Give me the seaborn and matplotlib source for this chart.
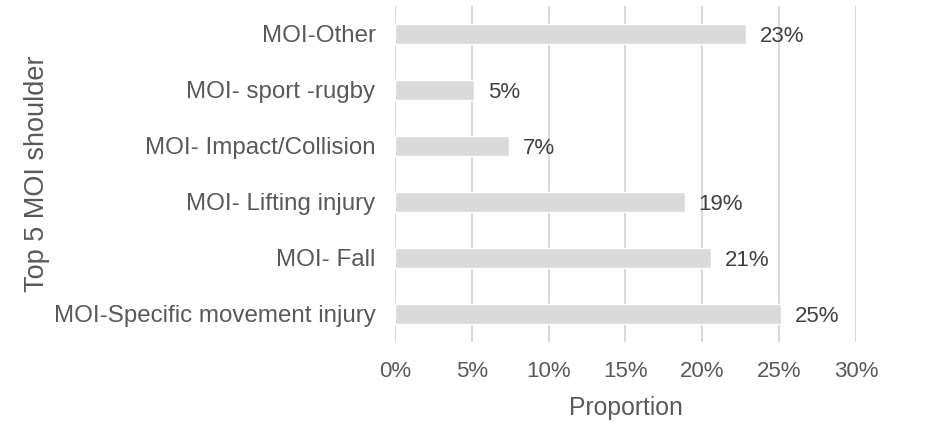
import pandas as pd
import matplotlib.pyplot as plt
import seaborn as sns
from matplotlib.ticker import PercentFormatter

categories = ['MOI-Other', 'MOI- sport -rugby', 'MOI- Impact/Collision',
              'MOI- Lifting injury', 'MOI- Fall', 'MOI-Specific movement injury']
proportions = [0.2287, 0.0514, 0.0741, 0.1886, 0.2057, 0.2514]
xticks = [0, 0.05, 0.10, 0.15, 0.20, 0.25, 0.30]

sns.set_theme(style='white')
plt.rcParams['font.family'] = ['Liberation Sans', 'DejaVu Sans']

df = pd.DataFrame({'category': categories, 'proportion': proportions})

fig, ax = plt.subplots(figsize=(9.4, 4.25), dpi=100)
fig.subplots_adjust(left=0.4202, right=0.9106, top=0.986, bottom=0.1953)

sns.barplot(data=df, x='proportion', y='category', color='#DADADA',
            saturation=1, width=0.35, ax=ax, zorder=3)

for i, v in enumerate(proportions):
    ax.annotate(f'{v:.0%}', xy=(v, i), xytext=(10, 0), textcoords='offset points',
                va='center_baseline', ha='left', fontsize=16, color='#404040')

ax.set_xlim(0, 0.30)
ax.set_ylim(5.5, -0.5)
ax.set_xticks(xticks)
ax.xaxis.set_major_formatter(PercentFormatter(1.0, decimals=0))
ax.grid(axis='x', color='#D9D9D9', linewidth=1.5, zorder=0)
ax.set_axisbelow(True)
for s in ax.spines.values():
    s.set_visible(False)
ax.tick_params(axis='both', length=0, labelcolor='#595959')
ax.tick_params(axis='x', pad=14, labelsize=16)
ax.tick_params(axis='y', pad=14, labelsize=17.4)
ax.set_xlabel('Proportion', fontsize=17.8, color='#595959', labelpad=10)
ax.set_ylabel('Top 5 MOI shoulder', fontsize=19.5, color='#595959', labelpad=3)

plt.savefig('out.png', dpi=100)
